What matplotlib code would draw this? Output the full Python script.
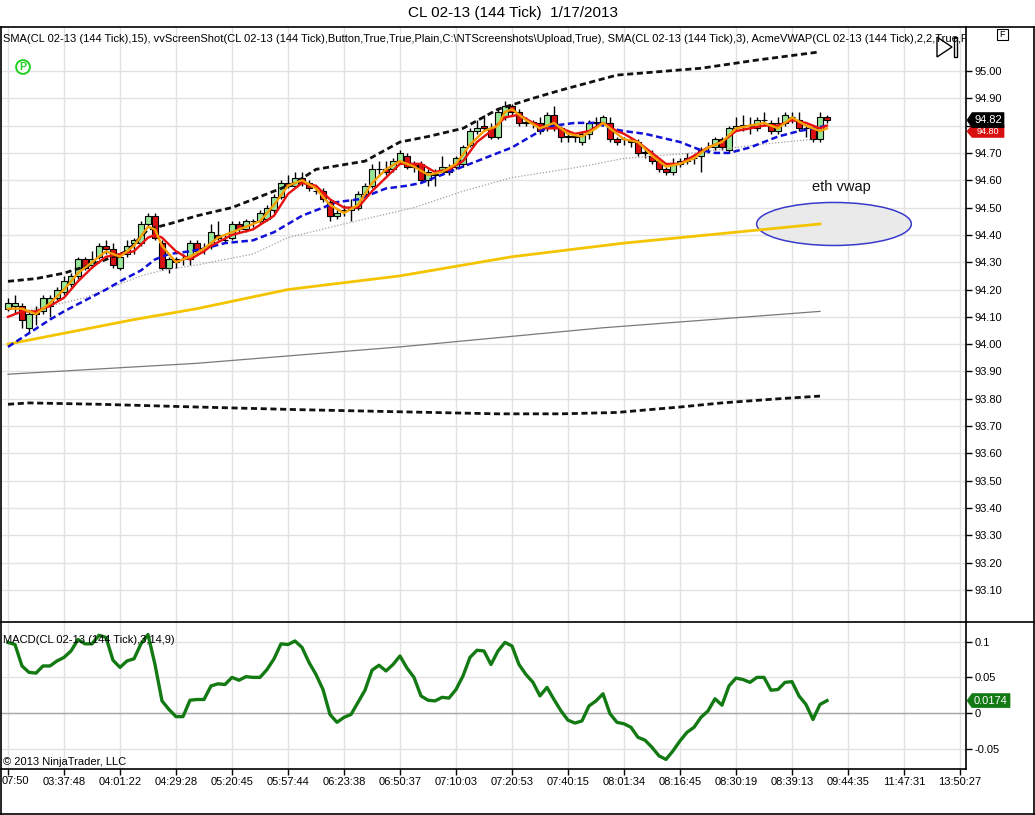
import numpy as np
import matplotlib
matplotlib.use('Agg')
import matplotlib.pyplot as plt
from matplotlib.patches import Ellipse, Polygon
from matplotlib.lines import Line2D

plt.rcParams['font.family'] = ['Liberation Sans', 'DejaVu Sans']

# ---------------- data ----------------
title = "CL 02-13 (144 Tick)  1/17/2013"
header = (r"SMA(CL 02-13 (144 Tick),15), vvScreenShot(CL 02-13 (144 Tick),Button,True,True,Plain,"
          r"C:\NTScreenshots\Upload,True), SMA(CL 02-13 (144 Tick),3), AcmeVWAP(CL 02-13 (144 Tick),2,2,True,F")
macd_title = "MACD(CL 02-13 (144 Tick),3,14,9)"
copyright_txt = "\u00a9 2013 NinjaTrader, LLC"

x_tick_labels = ["07:50", "03:37:48", "04:01:22", "04:29:28", "05:20:45", "05:57:44", "06:23:38",
                 "06:50:37", "07:10:03", "07:20:53", "07:40:15", "08:01:34", "08:16:45", "08:30:19",
                 "08:39:13", "09:44:35", "11:47:31", "13:50:27"]

opens = [94.13, 94.14, 94.14, 94.06, 94.12, 94.12, 94.14, 94.17, 94.19, 94.22,
         94.25, 94.31, 94.29, 94.32, 94.36, 94.35, 94.28, 94.33, 94.37, 94.37,
         94.44, 94.47, 94.37, 94.28, 94.31, 94.31, 94.31, 94.37, 94.35, 94.36,
         94.40, 94.38, 94.39, 94.44, 94.42, 94.45, 94.45, 94.46, 94.49, 94.54,
         94.59, 94.58, 94.61, 94.59, 94.56, 94.56, 94.52, 94.47, 94.49, 94.49,
         94.50, 94.55, 94.58, 94.64, 94.64, 94.64, 94.67, 94.69, 94.66, 94.66,
         94.60, 94.62, 94.63, 94.65, 94.65, 94.66, 94.73, 94.78, 94.80, 94.79,
         94.76, 94.83, 94.87, 94.85, 94.81, 94.81, 94.81, 94.79, 94.84, 94.79,
         94.76, 94.76, 94.74, 94.77, 94.81, 94.81, 94.81, 94.75, 94.75, 94.74,
         94.74, 94.70, 94.69, 94.67, 94.64, 94.63, 94.66, 94.67, 94.68, 94.69,
         94.72, 94.72, 94.75, 94.71, 94.79, 94.80, 94.80, 94.79, 94.82, 94.81,
         94.78, 94.81, 94.83, 94.82, 94.79, 94.79, 94.75, 94.83]
closes = [94.15, 94.15, 94.09, 94.11, 94.11, 94.17, 94.17, 94.20, 94.23, 94.25,
          94.31, 94.28, 94.31, 94.36, 94.35, 94.29, 94.32, 94.36, 94.38, 94.44,
          94.47, 94.39, 94.28, 94.31, 94.30, 94.31, 94.37, 94.34, 94.35, 94.41,
          94.39, 94.38, 94.44, 94.42, 94.45, 94.45, 94.48, 94.50, 94.54, 94.59,
          94.58, 94.61, 94.59, 94.57, 94.56, 94.53, 94.47, 94.48, 94.49, 94.50,
          94.55, 94.58, 94.64, 94.64, 94.63, 94.67, 94.70, 94.65, 94.65, 94.60,
          94.63, 94.62, 94.65, 94.63, 94.68, 94.72, 94.78, 94.79, 94.79, 94.76,
          94.85, 94.87, 94.85, 94.81, 94.81, 94.81, 94.78, 94.84, 94.79, 94.76,
          94.76, 94.76, 94.77, 94.81, 94.81, 94.83, 94.75, 94.74, 94.75, 94.74,
          94.70, 94.70, 94.67, 94.64, 94.63, 94.66, 94.67, 94.68, 94.68, 94.71,
          94.72, 94.75, 94.72, 94.79, 94.80, 94.80, 94.80, 94.82, 94.82, 94.78,
          94.81, 94.84, 94.83, 94.79, 94.79, 94.75, 94.83, 94.82]
highs = [94.17, 94.18, 94.15, 94.12, 94.14, 94.18, 94.18, 94.21, 94.25, 94.26,
         94.32, 94.32, 94.34, 94.37, 94.38, 94.37, 94.33, 94.38, 94.39, 94.45,
         94.48, 94.48, 94.38, 94.32, 94.32, 94.33, 94.38, 94.38, 94.37, 94.44,
         94.45, 94.40, 94.45, 94.45, 94.46, 94.46, 94.49, 94.51, 94.55, 94.60,
         94.62, 94.63, 94.63, 94.60, 94.58, 94.57, 94.53, 94.49, 94.51, 94.53,
         94.56, 94.59, 94.66, 94.67, 94.67, 94.68, 94.71, 94.70, 94.67, 94.67,
         94.64, 94.64, 94.69, 94.66, 94.69, 94.73, 94.79, 94.82, 94.84, 94.81,
         94.86, 94.89, 94.88, 94.86, 94.83, 94.82, 94.83, 94.85, 94.87, 94.80,
         94.77, 94.77, 94.78, 94.82, 94.83, 94.84, 94.83, 94.76, 94.76, 94.76,
         94.75, 94.72, 94.71, 94.68, 94.65, 94.68, 94.68, 94.70, 94.69, 94.72,
         94.74, 94.76, 94.76, 94.80, 94.83, 94.84, 94.83, 94.83, 94.85, 94.82,
         94.83, 94.85, 94.85, 94.85, 94.80, 94.80, 94.85, 94.84]
lows = [94.12, 94.11, 94.06, 94.04, 94.07, 94.11, 94.10, 94.16, 94.18, 94.21,
        94.24, 94.27, 94.28, 94.31, 94.33, 94.28, 94.27, 94.32, 94.33, 94.36,
        94.43, 94.38, 94.27, 94.26, 94.28, 94.29, 94.29, 94.33, 94.33, 94.35,
        94.38, 94.37, 94.38, 94.41, 94.41, 94.43, 94.44, 94.45, 94.48, 94.53,
        94.57, 94.57, 94.58, 94.56, 94.55, 94.52, 94.45, 94.46, 94.47, 94.45,
        94.49, 94.54, 94.57, 94.62, 94.62, 94.63, 94.66, 94.64, 94.63, 94.59,
        94.58, 94.58, 94.62, 94.62, 94.64, 94.65, 94.72, 94.77, 94.78, 94.75,
        94.75, 94.82, 94.84, 94.80, 94.80, 94.79, 94.77, 94.78, 94.78, 94.74,
        94.74, 94.74, 94.73, 94.75, 94.80, 94.80, 94.74, 94.73, 94.73, 94.72,
        94.69, 94.68, 94.66, 94.63, 94.62, 94.62, 94.65, 94.66, 94.66, 94.63,
        94.70, 94.71, 94.71, 94.70, 94.78, 94.78, 94.77, 94.78, 94.80, 94.77,
        94.77, 94.80, 94.81, 94.78, 94.76, 94.74, 94.74, 94.81]

sma3_idx = [0, 2, 4, 6, 8, 10, 12, 14, 16, 18, 20, 21, 22, 24, 26, 28, 30, 32, 34, 36, 38, 40,
            42, 44, 46, 48, 50, 52, 54, 56, 58, 60, 62, 64, 66, 68, 70, 71, 72, 74, 76, 78, 80,
            82, 84, 85, 86, 88, 90, 92, 94, 96, 98, 100, 102, 104, 106, 108, 110, 112, 114, 116, 117]
sma3_val = [94.13, 94.13, 94.11, 94.15, 94.20, 94.26, 94.30, 94.34, 94.32, 94.36, 94.43, 94.42,
            94.36, 94.30, 94.32, 94.35, 94.39, 94.41, 94.43, 94.45, 94.51, 94.58, 94.60, 94.57,
            94.51, 94.48, 94.51, 94.59, 94.64, 94.67, 94.65, 94.62, 94.63, 94.66, 94.73, 94.78,
            94.80, 94.85, 94.86, 94.82, 94.79, 94.81, 94.77, 94.76, 94.79, 94.81, 94.79, 94.75,
            94.74, 94.69, 94.65, 94.66, 94.68, 94.72, 94.74, 94.79, 94.80, 94.81, 94.79, 94.83,
            94.80, 94.78, 94.79]

red_idx = [0, 2, 4, 6, 8, 10, 12, 14, 16, 18, 20, 21, 22, 24, 26, 28, 29, 32, 35, 38, 40, 42, 44,
           46, 48, 50, 52, 54, 56, 58, 59, 61, 63, 65, 67, 69, 71, 73, 75, 77, 79, 81, 83, 85, 87,
           88, 90, 92, 94, 96, 98, 100, 102, 104, 106, 108, 110, 112, 114, 116, 117]
red_val = [94.10, 94.12, 94.12, 94.14, 94.17, 94.23, 94.28, 94.32, 94.33, 94.34, 94.39, 94.40,
           94.39, 94.34, 94.31, 94.34, 94.36, 94.40, 94.42, 94.47, 94.55, 94.59, 94.58, 94.53,
           94.50, 94.50, 94.56, 94.61, 94.66, 94.66, 94.66, 94.63, 94.64, 94.67, 94.74, 94.78,
           94.83, 94.84, 94.81, 94.79, 94.79, 94.77, 94.78, 94.81, 94.78, 94.77, 94.74, 94.70,
           94.66, 94.66, 94.69, 94.72, 94.74, 94.78, 94.79, 94.80, 94.80, 94.82, 94.81, 94.79, 94.80]

sma15_idx = [0, 3, 6, 8, 11, 14, 16, 19, 21, 23, 26, 28, 31, 35, 38, 40, 42, 45, 47, 50, 52, 54,
             57, 59, 62, 67, 72, 76, 78, 81, 84, 86, 88, 91, 96, 99, 101, 103, 106, 108, 110, 113,
             115, 117]
sma15_val = [93.99, 94.04, 94.09, 94.12, 94.16, 94.20, 94.23, 94.27, 94.31, 94.33, 94.34, 94.35,
             94.37, 94.38, 94.41, 94.44, 94.47, 94.50, 94.52, 94.53, 94.55, 94.57, 94.58, 94.59,
             94.62, 94.67, 94.72, 94.78, 94.80, 94.81, 94.81, 94.79, 94.78, 94.77, 94.74, 94.71,
             94.70, 94.70, 94.72, 94.74, 94.76, 94.78, 94.79, 94.80]

dotted_idx = [2, 6, 11, 15, 19, 22, 27, 35, 40, 48, 58, 65, 72, 82, 88, 98, 107, 115]
dotted_val = [94.12, 94.14, 94.17, 94.21, 94.25, 94.27, 94.29, 94.33, 94.39, 94.44, 94.50, 94.56,
              94.61, 94.65, 94.68, 94.70, 94.73, 94.75]

upper_idx = [0, 4, 8, 13, 17, 20, 23, 27, 32, 37, 41, 44, 51, 56, 60, 65, 70, 75, 79, 87, 99, 107, 116]
upper_val = [94.23, 94.24, 94.26, 94.30, 94.34, 94.42, 94.44, 94.47, 94.50, 94.55, 94.59, 94.64,
             94.67, 94.74, 94.76, 94.79, 94.86, 94.90, 94.93, 94.985, 95.01, 95.04, 95.07]

lower_idx = [0, 3, 13, 27, 42, 70, 79, 87, 96, 102, 110, 116]
lower_val = [93.78, 93.785, 93.78, 93.77, 93.76, 93.745, 93.745, 93.75, 93.77, 93.785, 93.80, 93.81]

mid_idx = [0, 27, 56, 85, 116]
mid_val = [93.89, 93.93, 93.99, 94.06, 94.12]

vwap_idx = [0, 8, 18, 27, 40, 56, 72, 88, 104, 116]
vwap_val = [94.00, 94.04, 94.09, 94.13, 94.20, 94.25, 94.32, 94.37, 94.41, 94.44]

macd = [0.099, 0.096, 0.066, 0.057, 0.056, 0.066, 0.066, 0.073, 0.078, 0.087,
        0.103, 0.097, 0.097, 0.109, 0.106, 0.074, 0.064, 0.073, 0.076, 0.097,
        0.110, 0.068, 0.017, 0.005, -0.005, -0.005, 0.018, 0.019, 0.019, 0.038,
        0.041, 0.040, 0.050, 0.046, 0.051, 0.050, 0.050, 0.061, 0.076, 0.097,
        0.096, 0.101, 0.092, 0.071, 0.054, 0.033, -0.002, -0.013, -0.006, -0.002,
        0.015, 0.032, 0.060, 0.067, 0.059, 0.068, 0.080, 0.063, 0.050, 0.024,
        0.018, 0.017, 0.022, 0.021, 0.033, 0.052, 0.078, 0.088, 0.087, 0.068,
        0.087, 0.099, 0.094, 0.068, 0.054, 0.043, 0.024, 0.036, 0.019, 0.003,
        -0.010, -0.014, -0.011, 0.010, 0.017, 0.027, -0.001, -0.013, -0.015, -0.020,
        -0.034, -0.038, -0.048, -0.060, -0.065, -0.053, -0.039, -0.027, -0.020, -0.006,
        0.003, 0.020, 0.011, 0.038, 0.049, 0.047, 0.043, 0.050, 0.050, 0.032,
        0.033, 0.043, 0.044, 0.024, 0.012, -0.009, 0.012, 0.0174]

last_price = 94.82
last_red = 94.80
last_macd = 0.0174

price_ticks = [round(93.1 + 0.1 * k, 2) for k in range(20)]
hidden_price_tick = 94.80  # covered by the value tags in the reference
macd_ticks = [-0.05, 0.0, 0.05, 0.1]
macd_tick_labels = ["-0.05", "0", "0.05", "0.1"]

# ---------------- figure ----------------
W, H = 1035, 815
fig = plt.figure(figsize=(W / 100, H / 100), dpi=100)
fig.patch.set_facecolor('white')


def fx(px):
    return px / W


def fy(py):
    return 1 - py / H


ax = fig.add_axes([fx(1), fy(622), fx(966) - fx(1), fy(27) - fy(622)])
axm = fig.add_axes([fx(1), fy(769), fx(966) - fx(1), fy(622) - fy(769)], sharex=ax)

n = len(closes)
idx = np.arange(n)
xticks = np.arange(0, 8 * len(x_tick_labels), 8)

grid_c = '#E2E2E2'
for a in (ax, axm):
    a.set_facecolor('white')
    for s in ('top', 'left'):
        a.spines[s].set_visible(False)
    a.spines['right'].set_color('black')
    a.spines['right'].set_linewidth(1.2)
    a.yaxis.tick_right()
    a.tick_params(axis='y', direction='out', length=4, width=1, pad=2, labelsize=8, colors='black')
    a.set_xticks(xticks)
    a.grid(True, color=grid_c, lw=1, zorder=0)
    a.set_axisbelow(True)

ax.spines['bottom'].set_visible(False)
axm.spines['bottom'].set_color('black')
axm.spines['bottom'].set_linewidth(1.2)

ax.set_xlim(-1, 136.86)
ax.set_ylim(92.983, 95.161)
ax.set_yticks(price_ticks)
ax.set_yticklabels(["" if abs(v - hidden_price_tick) < 1e-6 else f"{v:.2f}" for v in price_ticks])
ax.tick_params(axis='x', length=0, labelbottom=False)

axm.set_ylim(-0.0784, 0.1276)
axm.set_yticks(macd_ticks)
axm.set_yticklabels(macd_tick_labels)
axm.set_xticklabels([""] + x_tick_labels[1:])
axm.tick_params(axis='x', direction='out', length=4, width=1, pad=2, labelsize=8)
fig.text(fx(2), fy(781), x_tick_labels[0], ha='left', va='center', fontsize=8)

# ---------------- candles ----------------
o = np.array(opens)
c = np.array(closes)
hi = np.array(highs)
lo = np.array(lows)
up = c >= o
body_bottom = np.minimum(o, c)
body_h = np.maximum(np.abs(c - o), 0.002)
ax.vlines(idx, lo, hi, color='black', lw=1, zorder=2)
ax.bar(idx, body_h, bottom=body_bottom, width=0.72,
       color=np.where(up, '#98E698', '#D81010'), edgecolor='black', linewidth=0.8, zorder=2.5)

# ---------------- overlay lines ----------------
ell = Ellipse((118, 94.44), 22.1, 0.1575, facecolor='#EAEAEA', edgecolor='#3A3ACC', lw=1.1, zorder=1.5)
ax.add_patch(ell)
ax.text(119, 94.575, "eth vwap", ha='center', va='center', fontsize=10.5, color='#111111', zorder=6)

ax.plot(mid_idx, mid_val, color='#7A7A7A', lw=0.9, zorder=3)
ax.plot(vwap_idx, vwap_val, color='#F5C400', lw=2.0, zorder=3)
ax.plot(dotted_idx, dotted_val, color='#A0A0A0', lw=0.9, ls=(0, (1, 1.5)), zorder=3)
ax.plot(upper_idx, upper_val, color='#111111', lw=2.0, dashes=(2.2, 1.3), zorder=3)
ax.plot(lower_idx, lower_val, color='#111111', lw=2.0, dashes=(2.2, 1.3), zorder=3)
ax.plot(sma15_idx, sma15_val, color='#1010D8', lw=1.8, dashes=(2.6, 1.4), zorder=4)
ax.plot(red_idx, red_val, color='#E81010', lw=1.7, zorder=4.5)
ax.plot(sma3_idx, sma3_val, color='#F5A000', lw=1.7, zorder=5)

ax.text((3 - 1) / 965, (622 - 39) / 595, header, transform=ax.transAxes, ha='left', va='center',
        fontsize=8, color='black', clip_on=True, zorder=7)

# MACD
axm.axhline(0, color='#A8A8A8', lw=1, zorder=1)
axm.plot(idx, macd, color='#137A13', lw=2.4, zorder=3)
axm.text((3 - 1) / 965, (769 - 640) / 147, macd_title, transform=axm.transAxes, ha='left',
         va='center', fontsize=8, zorder=5)
axm.text((3 - 1) / 965, (769 - 762) / 147, copyright_txt, transform=axm.transAxes, ha='left',
         va='center', fontsize=8, zorder=5)


# ---------------- value tags ----------------
def tag(a, value, text, fc, tc, w=36, h=15, fs=8):
    xd = a.transAxes.transform((1, 0))[0]
    yd = a.transData.transform((0, value))[1]
    verts = [(xd + 1, yd), (xd + 6, yd + h / 2), (xd + 6 + w, yd + h / 2),
             (xd + 6 + w, yd - h / 2), (xd + 6, yd - h / 2)]
    verts = [(vx / W, vy / H) for vx, vy in verts]
    fig.add_artist(Polygon(verts, closed=True, transform=fig.transFigure, facecolor=fc,
                           edgecolor=fc, lw=0.5, zorder=10))
    fig.text((xd + 6 + w / 2) / W, yd / H, text, ha='center', va='center', color=tc,
             fontsize=fs, zorder=11)


tag(ax, last_red - 0.021, f"{last_red:.2f}", '#D81010', 'white', w=32, h=12, fs=6.5)
tag(ax, last_price, f"{last_price:.2f}", '#000000', 'white', w=32, h=15)
tag(axm, last_macd, f"{last_macd:.4f}", '#137A13', 'white', w=38, h=14)

# ---------------- frame, title, icons ----------------
fig.text(fx(513), fy(13), title, ha='center', va='center', fontsize=11)
frame = [Line2D([fx(0.5), fx(1033.5)], [fy(27), fy(27)]),
         Line2D([fx(0.5), fx(1033.5)], [fy(622), fy(622)]),
         Line2D([fx(0.5), fx(1033.5)], [fy(814), fy(814)]),
         Line2D([fx(0.8), fx(0.8)], [fy(27), fy(814)]),
         Line2D([fx(1033.5), fx(1033.5)], [fy(27), fy(814)])]
for ln in frame:
    ln.set_color('black')
    ln.set_linewidth(1.2)
    ln.set_transform(fig.transFigure)
    fig.add_artist(ln)

fig.text(fx(23), fy(67), "P", ha='center', va='center', fontsize=7.5, fontweight='bold',
         color='#20D020', bbox=dict(boxstyle='circle,pad=0.18', ec='#20D020', fc='white', lw=1.4))

tri = Polygon([(fx(937), fy(37)), (fx(937), fy(57)), (fx(952), fy(47))], closed=True,
              transform=fig.transFigure, fill=False, edgecolor='black', lw=1.0)
fig.add_artist(tri)
bar_rect = Polygon([(fx(953.5), fy(37)), (fx(956.5), fy(37)), (fx(956.5), fy(57)), (fx(953.5), fy(57))],
                   closed=True, transform=fig.transFigure, fill=False, edgecolor='black', lw=1.0)
fig.add_artist(bar_rect)
fbox = Polygon([(fx(997), fy(28.5)), (fx(1008), fy(28.5)), (fx(1008), fy(40)), (fx(997), fy(40))],
               closed=True, transform=fig.transFigure, fill=False, edgecolor='black', lw=0.8)
fig.add_artist(fbox)
fig.text(fx(1002.5), fy(34.5), "F", ha='center', va='center', fontsize=6.5)

fig.savefig('out.png', dpi=100, facecolor='white')
